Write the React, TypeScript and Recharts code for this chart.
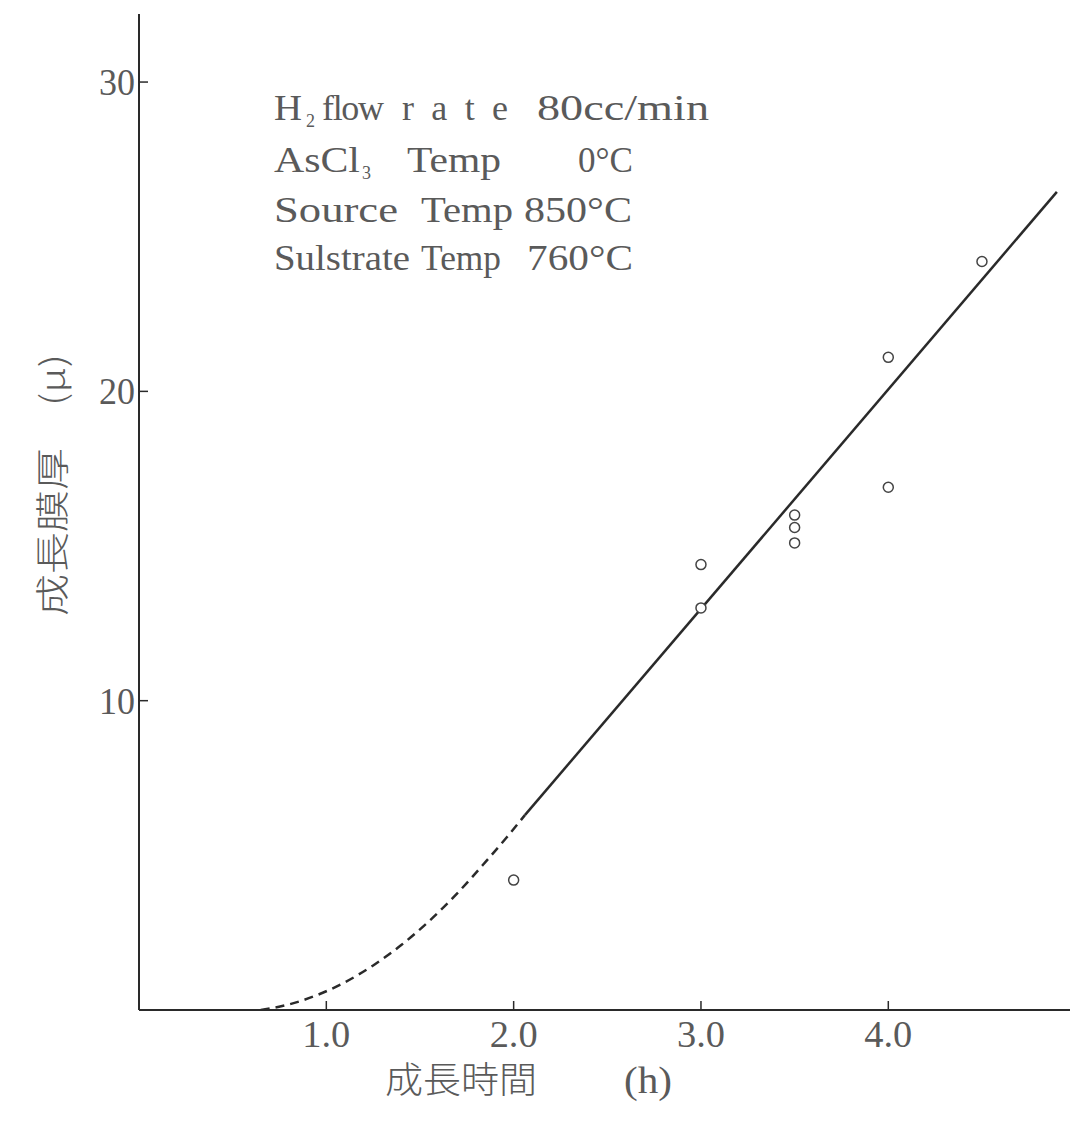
import { ComposedChart, Line, Scatter, XAxis, YAxis } from "recharts";

// measured points: growth time (h) vs grown layer thickness (μ)
const timeH = [2.0, 3.0, 3.0, 3.5, 3.5, 3.5, 4.0, 4.0, 4.5];
const thickness = [4.2, 14.4, 13.0, 16.0, 15.6, 15.1, 21.1, 16.9, 24.2];

// straight fit line (solid)
const fitTime = [2.06, 4.9];
const fitThickness = [6.3, 26.45];

// extrapolated start (dashed)
const curveTime = [0.65, 0.8, 0.95, 1.1, 1.25, 1.4, 1.55, 1.7, 1.85, 1.96, 2.06];
const curveThickness = [0, 0.18, 0.48, 0.9, 1.44, 2.1, 2.88, 3.78, 4.79, 5.56, 6.3];

const xTicks = [1, 2, 3, 4];
const yTicks = [10, 20, 30];

const pointData = timeH.map((t, i) => ({ t, v: thickness[i] }));
const fitData = fitTime.map((t, i) => ({ t, v: fitThickness[i] }));
const curveData = curveTime.map((t, i) => ({ t, v: curveThickness[i] }));

const INK = "#2a2a2a";
const TEXT = "#5a5a5a";
const SERIF = "'Liberation Serif', 'DejaVu Serif', serif";
const CJK = "'Noto Sans CJK JP', sans-serif";

function YTick(props: any) {
  const { x, y, payload } = props;
  return (
    <g>
      <line x1={x} x2={x + 9} y1={y} y2={y} stroke={INK} strokeWidth={1.5} />
      <text x={x - 4} y={y + 13} textAnchor="end" fontFamily={SERIF} fontSize={38} fill={TEXT}
        textLength={36} lengthAdjust="spacingAndGlyphs">
        {payload.value}
      </text>
    </g>
  );
}

function XTick(props: any) {
  const { x, y, payload } = props;
  return (
    <g>
      <line x1={x} x2={x} y1={y - 9} y2={y} stroke={INK} strokeWidth={1.5} />
      <text x={x} y={y + 37} textAnchor="middle" fontFamily={SERIF} fontSize={38} fill={TEXT}
        textLength={48} lengthAdjust="spacingAndGlyphs">
        {Number(payload.value).toFixed(1)}
      </text>
    </g>
  );
}

function Ring(props: any) {
  const { cx, cy } = props;
  return <circle cx={cx} cy={cy} r={5} fill="#fff" stroke="#444" strokeWidth={1.5} />;
}

function Notes() {
  const t = { fontFamily: SERIF, fontSize: 36, fill: TEXT };
  const sub = { fontFamily: SERIF, fontSize: 18, fill: TEXT };
  return (
    <svg width={1070} height={1126} style={{ position: "absolute", left: 0, top: 0, pointerEvents: "none" }}>
      <text x={274} y={120} {...t} textLength={28} lengthAdjust="spacingAndGlyphs">H</text>
      <text x={306} y={127} {...sub}>2</text>
      <text x={322} y={120} {...t} textLength={62} lengthAdjust="spacing">flow</text>
      <text x={402} y={120} {...t} textLength={106} lengthAdjust="spacing">rate</text>
      <text x={537} y={120} {...t} textLength={172} lengthAdjust="spacingAndGlyphs">80cc/min</text>

      <text x={274} y={172} {...t} textLength={86} lengthAdjust="spacingAndGlyphs">AsCl</text>
      <text x={362} y={179} {...sub}>3</text>
      <text x={407} y={172} {...t} textLength={94} lengthAdjust="spacingAndGlyphs">Temp</text>
      <text x={578} y={172} {...t} textLength={55} lengthAdjust="spacingAndGlyphs">0°C</text>

      <text x={274} y={222} {...t} textLength={124} lengthAdjust="spacingAndGlyphs">Source</text>
      <text x={421} y={222} {...t} textLength={92} lengthAdjust="spacingAndGlyphs">Temp</text>
      <text x={524} y={222} {...t} textLength={108} lengthAdjust="spacingAndGlyphs">850°C</text>

      <text x={274} y={270} {...t} textLength={136} lengthAdjust="spacingAndGlyphs">Sulstrate</text>
      <text x={421} y={270} {...t} textLength={80} lengthAdjust="spacingAndGlyphs">Temp</text>
      <text x={527} y={270} {...t} textLength={106} lengthAdjust="spacingAndGlyphs">760°C</text>

      {/* axis titles */}
      <text x={50} y={485} transform="rotate(-90 50 485)" textAnchor="middle" dominantBaseline="central"
        fontFamily={CJK} fontSize={34} fontWeight={300} fill={TEXT} textLength={262} lengthAdjust="spacingAndGlyphs">
        成長膜厚　(μ)
      </text>
      <text x={385} y={1093} fontFamily={CJK} fontSize={36} fontWeight={300} fill={TEXT}
        textLength={152} lengthAdjust="spacingAndGlyphs">成長時間</text>
      <text x={624} y={1093} fontFamily={SERIF} fontSize={38} fill={TEXT}
        textLength={48} lengthAdjust="spacingAndGlyphs">(h)</text>
    </svg>
  );
}

export default function App() {
  return (
    <div style={{ position: "absolute", left: 0, top: 0, width: 1070, height: 1126, background: "#fff" }}>
      <ComposedChart width={1070} height={1126} margin={{ top: 14, right: 0, left: 0, bottom: 0 }}>
        <XAxis
          type="number"
          dataKey="t"
          domain={[0, 4.97]}
          ticks={xTicks}
          allowDataOverflow
          height={116}
          tickSize={0}
          tickMargin={0}
          tick={<XTick />}
          axisLine={{ stroke: INK, strokeWidth: 2 }}
        />
        <YAxis
          type="number"
          dataKey="v"
          domain={[0, 32.2]}
          ticks={yTicks}
          allowDataOverflow
          width={139}
          tickSize={0}
          tickMargin={0}
          tick={<YTick />}
          axisLine={{ stroke: INK, strokeWidth: 2 }}
        />
        <Line data={curveData} dataKey="v" type="monotone" stroke={INK} strokeWidth={2.5}
          strokeDasharray="9 6" dot={false} isAnimationActive={false} />
        <Line data={fitData} dataKey="v" type="linear" stroke={INK} strokeWidth={2.5}
          dot={false} isAnimationActive={false} />
        <Scatter data={pointData} dataKey="v" shape={<Ring />} isAnimationActive={false} />
      </ComposedChart>
      <Notes />
    </div>
  );
}
